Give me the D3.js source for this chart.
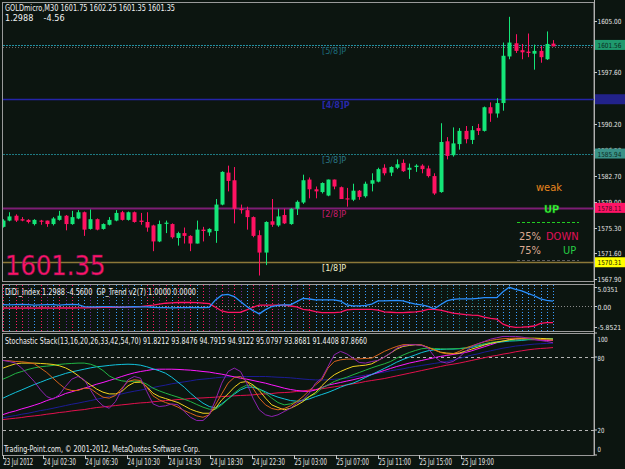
<!DOCTYPE html>
<html>
<head>
<meta charset="utf-8">
<script src="https://cdn.jsdelivr.net/npm/d3@7"></script>
<style>
  html, body { margin: 0; padding: 0; background: #0c1510; }
  svg { display: block; }
  text { font-family: "Liberation Sans Narrow", "DejaVu Sans Condensed", "Liberation Sans", sans-serif; }
</style>
</head>
<body>
<div id="chart"></div>
<script>
// ---- data (GOLDmicro M30, 89 bars) ----
const open = [1575.4,1576.3,1577.0,1576.5,1576.4,1575.8,1576.3,1576.3,1575.8,1576.4,1577.0,1575.8,1576.6,1577.5,1575.1,1576.5,1575.1,1575.7,1576.3,1577.5,
  1576.4,1577.5,1576.3,1576.1,1575.6,1573.3,1575.9,1575.8,1573.8,1574.5,1574.1,1573.0,1575.0,1574.6,1574.8,1578.6,1583.2,1582.1,1578.0,1577.8,
  1576.8,1574.2,1571.7,1576.2,1575.6,1577.1,1575.8,1578.0,1578.9,1582.2,1580.8,1580.4,1579.9,1582.2,1581.1,1579.5,1579.3,1580.6,1579.8,1581.6,
  1581.9,1583.9,1583.2,1583.9,1584.6,1583.6,1584.0,1584.2,1583.8,1582.7,1580.4,1587.7,1585.7,1587.3,1589.2,1587.9,1589.6,1589.2,1592.6,1591.7,
  1593.2,1599.9,1601.8,1600.8,1600.6,1600.3,1600.7,1599.5,1601.75];
const high = [1576.5,1577.5,1577.2,1576.8,1576.5,1576.5,1576.4,1576.3,1576.8,1577.7,1577.1,1577.7,1577.8,1577.6,1577.9,1576.6,1575.9,1576.8,1577.8,1577.7,
  1577.6,1577.6,1577.4,1577.5,1575.7,1576.3,1576.3,1575.9,1574.7,1575.3,1574.2,1576.3,1575.4,1575.2,1579.4,1583.4,1584.2,1584.0,1578.6,1578.3,
  1576.9,1574.9,1576.2,1579.4,1578.0,1578.0,1578.1,1579.2,1582.9,1582.5,1581.2,1581.8,1582.2,1582.2,1581.2,1581.0,1581.6,1580.7,1581.9,1583.1,
  1583.9,1584.4,1584.1,1585.1,1585.1,1584.5,1584.4,1584.4,1584.2,1583.1,1590.3,1588.3,1589.7,1589.6,1589.9,1589.9,1590.2,1592.7,1593.3,1593.9,
  1601.9,1605.6,1603.1,1601.7,1603.2,1601.6,1601.4,1603.5,1602.25];
const low = [1575.3,1576.2,1576.1,1576.2,1575.9,1575.6,1575.7,1575.4,1575.6,1576.3,1574.9,1575.7,1576.5,1574.1,1575.0,1574.9,1575.0,1575.6,1576.2,1576.3,
  1576.3,1576.0,1575.7,1574.7,1571.9,1573.2,1574.5,1573.7,1572.7,1573.0,1571.9,1573.0,1573.3,1574.1,1573.1,1578.5,1580.5,1575.9,1577.3,1575.0,
  1573.9,1568.4,1569.9,1575.4,1575.4,1575.8,1575.7,1577.1,1578.7,1579.5,1579.5,1580.2,1579.8,1580.8,1579.4,1578.3,1579.1,1579.3,1579.6,1580.5,
  1581.8,1582.8,1582.7,1583.7,1583.3,1582.3,1583.3,1583.1,1582.5,1580.0,1580.3,1585.1,1585.5,1586.5,1587.4,1587.3,1588.6,1589.1,1590.5,1591.1,
  1592.1,1599.5,1600.4,1599.5,1599.8,1598.0,1599.0,1599.4,1601.35];
const close = [1576.3,1576.9,1576.3,1576.3,1576.1,1576.4,1576.2,1575.8,1576.6,1577.0,1575.8,1576.8,1577.5,1575.0,1576.5,1575.0,1575.8,1576.4,1577.4,1576.4,
  1577.5,1576.1,1576.1,1575.3,1573.3,1575.8,1576.0,1573.9,1574.5,1574.1,1573.0,1575.0,1574.8,1575.1,1578.6,1583.3,1582.0,1578.0,1577.8,1576.8,
  1574.1,1571.7,1576.1,1575.7,1576.9,1575.9,1578.0,1579.0,1582.1,1580.8,1580.5,1581.7,1582.2,1581.2,1579.4,1579.4,1580.6,1579.7,1581.6,1582.1,
  1583.7,1583.1,1584.0,1584.4,1583.4,1583.9,1584.2,1583.7,1582.7,1580.2,1587.6,1585.6,1587.4,1589.2,1588.0,1589.3,1589.2,1592.6,1591.7,1593.2,
  1600.0,1601.9,1600.7,1600.5,1600.4,1600.7,1599.8,1601.7,1601.35];

// murrey math levels
const murreyLevels = [1601.56, 1593.75, 1585.94, 1578.13, 1570.31];
const murreyNames = ["[5/8]P", "[4/8]P", "[3/8]P", "[2/8]P", "[1/8]P"];
const murreyBoxText = ["1601.56", "", "1585.94", "1578.11", "1570.31"];

const priceTicks = [1605.00, 1597.60, 1590.20, 1586.50, 1582.70, 1579.00, 1575.30, 1571.60, 1567.90];

// DiDi index
const didiFast = [0.3,0.25,0.3,0.35,0.3,0.2,0.25,0.3,0.3,0.2,0.3,0.35,0.3,
  -0.2,-0.3,-0.3,-0.25,-0.2,-0.3,-0.35,-0.3,-0.25,-0.3,-0.3,
  -0.4,-0.5,-0.5,-0.55,-0.5,-0.5,-0.45,-0.5,-0.5,-0.4,
  1.6,2.9,3.1,2.5,1.15,-0.2,-1.3,-2.2,-1.05,-0.2,0.1,0.27,0.27,1.15,2.0,1.85,1.6,
  1.6,1.6,1.6,1.3,0.27,0,0,0.1,0.44,1.33,1.33,1.4,1.45,1.33,0.88,0.44,0.27,-0.18,-0.8,
  0.27,1.33,1.77,1.86,1.86,1.86,2.03,2.2,2.2,2.2,3.8,5.0351,4.5,4.06,3.36,2.74,1.9,1.5,1.2988];
const didiSlow = [-0.6,-0.65,-0.6,-0.62,-0.6,-0.65,-0.6,-0.6,-0.63,-0.6,-0.58,-0.6,-0.55,-0.55,-0.5,-0.5,
  -0.45,-0.45,-0.4,-0.4,-0.35,-0.3,-0.2,0.0,0.2,0.45,0.7,0.8,0.9,0.9,0.9,0.85,0.75,0.6,
  -0.4,-1.4,-1.8,-1.8,-1.75,-1.1,-0.4,0.2,0.2,0.2,0.2,0.2,-0.05,-0.3,-0.95,-1.2,-1.6,
  -1.85,-1.85,-1.85,-1.75,-1.1,-0.95,-0.95,-0.95,-0.95,-1.2,-1.65,-1.75,-1.85,-1.85,-1.75,-1.65,-1.45,-1.0,-0.95,
  -1.2,-1.6,-2.0,-2.2,-2.4,-2.55,-2.6,-3.1,-3.4,-3.6,-5.0,-5.6,-5.8521,-5.8,-5.7,-5.5,-4.8,-4.6,-4.56];
// GP_Trend state per bar: b blue, p pink, m purple, t teal
const gpTrend = "pbppmbpmbpmpbbmbbmbbmbbppmpbpmpbpmmpmpmbpmbpmbbmbpbbbbbbbbbbbbbbbbbbtbttbtbttbtbbbbbbbbbb".split("");

// Stochastic stack
const stochPeriods = [13, 16, 20, 26, 33, 42, 54, 70];
const stoch13 = [77.3,76.4,75.1,71,65.5,60,53.1,47.6,45.5,49,55.9,61.9,64.1,61.4,53.1,44.9,40,38,43.5,53.1,61.4,64.1,62.7,51.8,41.6,39.4,40,41.6,40.8,35.3,30.6,27.9,27.9,32.6,44.9,58.6,68.2,71,68.2,58.6,46.3,36.7,32.6,31.2,32.6,35.3,38,42.2,44.9,50.4,58.6,
  62.7,72.3,81.9,84.7,82.7,79.2,75.6,75.1,76.4,77.3,80,83.3,87.4,89.3,90.2,90.2,89.6,87.4,80.6,76.4,75.1,76.4,80,84.7,88.8,91,92.9,94.8,95.9,97,97,97,96.5,95.6,94.8,93.7,92.9,91.8212];
const stoch16 = [77.3,77,76.4,76.2,75.6,74.5,71,67.4,62.7,58.1,54,52.6,52.6,54.5,54.2,50.4,47.1,46.3,48.5,54.5,60,61.4,60.8,55.3,48.2,44.9,42.7,41.1,38.9,36.1,33.9,31.7,30.6,32.6,40.8,49.8,58.6,63.3,64.1,60,54.5,46.3,40.8,37.8,36.7,37.8,40,43.5,47.6,52.6,57.2,
  61.4,71,76.4,77.8,78.4,78.4,78.6,78.9,79.2,81.9,84.7,86.9,88.8,90.2,90.4,90.4,89.9,88,86,83.8,82.7,82.7,84.7,87.4,89.3,91,92.6,93.7,94.5,95.1,95.4,95.6,95.6,95.4,94.8,94.5,94.3,93.8476];
const stoch20 = [71,72.9,74.5,75.1,75.1,75.1,74.8,74.5,74,72.9,71.2,68.5,64.9,60.8,57.2,53.7,51.2,49.8,49.8,51.8,56.4,59.2,59.4,55.9,50.4,47.6,46,44.3,42.7,40,37.2,35.3,33.9,33.9,38,44.9,49.8,55.3,59.2,60,57.2,52.6,46.3,40.8,38.6,36.7,38,40.5,43.5,47.6,50.9,
  56.4,61.4,65.5,68.2,70.4,72.3,72.9,73.4,74.5,77.3,80,83.3,86.6,88.8,89.6,90.2,89.9,88,86,84.1,83.3,83,83.3,85,86.6,88.2,89.9,91.3,92.4,93.2,94.3,95.1,95.4,95.6,95.6,95.4,95.1,94.7915];
const stoch26 = [61.9,64.1,66.6,68.2,69.9,71.2,72.1,72.6,73.2,74,74.5,74.8,75.1,75.1,74.2,72.3,69,64.6,61.9,60.5,60,60.3,60,57.8,54.5,52.3,50.4,48.7,47.1,45.4,43.5,41.1,38.9,37.2,37.2,40.8,45.4,50.4,54.5,57,56.4,53.7,50.4,46.3,42.7,40.8,41.6,43.3,44.9,47.6,49.8,
  54.5,57.2,60,61.9,63.5,65.5,67.4,69.3,71.2,72.9,74.5,76.4,79.2,81.7,83.8,85.5,86.9,87.4,87.1,86.9,86.6,86.9,87.1,87.7,88.8,89.9,91,92.1,92.6,93.2,93.7,94,94.3,94.5,94.5,94.8,94.8,94.9122];
const stoch33 = [46.3,48.7,51,53.1,55.3,57.5,59.4,61.4,63.3,64.9,66.6,67.9,69,70.1,71.2,72.1,72.6,73.2,73.7,74,74.2,74,73.4,72.1,70.4,68.8,66.8,63.5,59.4,55.3,50.4,46,42.2,39.4,38.3,41.6,45.7,49.6,53.1,55.3,55.3,53.7,51.5,49,47.1,45.7,44.3,43.8,44.3,45.7,47.6,
  49.3,51,53.1,55.3,57.2,58.6,60.8,63.3,65.7,68.2,70.7,73.2,75.9,78.1,80,81.9,83.8,85.2,86,86.3,86.6,86.6,86.9,87.4,88,89.3,90.4,91.3,92.1,92.6,93.2,93.4,93.7,94.3,94.5,94.8,95.1,95.0797];
const stoch42 = [32.8,34.5,35.8,37.5,38.9,40.5,42.2,44.3,46,47.9,50.1,51.5,53.1,54.5,56.1,57.8,59.2,60.8,62.4,64.1,65.7,67.1,68.2,69,69.9,70.1,70.1,70.1,69.9,69.6,69.3,68.8,68.2,67.7,66.8,66,64.9,63.8,62.7,61.9,60.8,59.7,58.6,57.2,55.9,54.5,53.4,52.6,52,51.8,53,
  55,57,58.1,59.2,60.3,61.4,62.7,64.1,65.7,67.4,69,70.7,72.3,73.7,75.1,76.2,77.3,78.4,79.5,80.6,81.4,82.2,83,83.8,85.2,86.9,88.5,90.2,91.8,93.2,94.3,94.8,94.8,94.5,94.3,94,93.7,93.8681];
const stoch54 = [30.1,31.2,32,33.1,33.9,35,36.1,36.9,38,39.1,40.2,41.3,42.2,43.3,44.3,45.4,46.5,47.6,48.7,49.8,51,52,52.9,54,55,56.1,57,58.1,58.9,59.7,60.5,61.4,61.9,62.4,63,63.5,63.8,64.1,64.1,64.1,64.1,64.1,64.1,63.8,63.5,63.3,63,62.5,62,61.6,61.3,
  61.2,61.4,61.8,62.2,62.7,63.5,64.4,65.2,66,66.8,67.7,68.8,69.6,70.4,71.5,72.3,73.2,74,74.8,75.6,76.4,77.5,78.9,80.3,81.7,82.7,84.1,85.2,86.3,87.4,88.2,89.1,89.6,90.2,90.7,91,91.3,91.4408];
const stoch70 = [28.7,29.3,29.8,30.4,31.2,31.7,32.3,33.1,33.7,34.5,35,35.8,36.4,36.9,37.8,38.6,39.1,39.7,40.2,40.8,41.3,41.9,42.4,42.7,43.3,43.8,44.3,44.6,45.2,45.4,46,46.3,46.5,46.8,47.1,47.6,47.9,48.2,48.5,48.7,49,49.6,49.8,50.1,50.7,50.9,51.2,51.8,52.3,52.9,53.4,
  54,54.8,55.6,56.4,57.2,58.1,58.9,60,60.8,61.6,62.4,63.5,64.6,65.7,66.8,67.9,69,70.1,71.2,72.3,73.4,74.2,75.1,76.2,77.3,78.4,79.5,80.6,81.4,82.5,83.3,84.4,85.2,86,86.6,87.1,87.4,87.866];
const stochSeries = [stoch13, stoch16, stoch20, stoch26, stoch33, stoch42, stoch54, stoch70];
const stochColors = ["#8e22b0", "#d8641c", "#f2d21e", "#22b444", "#12c2dc", "#ff18ff", "#1c1c96", "#e2104e"];
const stochLevels = [100, 80, 20, 0];

// time axis (bar positions of labels)
const timeTickBars = [0, 6.4, 13.1, 19.8, 26.4, 33.1, 39.8, 46.6, 53.3, 60, 66.6, 73.3];
const timeLabels = ["23 Jul 2012", "24 Jul 02:30", "24 Jul 06:30", "24 Jul 10:30", "24 Jul 14:30", "24 Jul 18:30",
  "24 Jul 22:30", "25 Jul 03:00", "25 Jul 07:00", "25 Jul 11:00", "25 Jul 15:00", "25 Jul 19:00"];

// ---- layout ----
const W = 625, H = 469;
const axisX = 594;
const main = { top: 2, bottom: 281 };
const ind = { top: 284, bottom: 331 };
const sto = { top: 333, bottom: 455 };

const svg = d3.select("#chart").append("svg")
  .attr("width", W).attr("height", H)
  .style("background", "#0c1510");

const x = d3.scaleLinear().domain([0, 88]).range([3, 553]);
const yP = d3.scaleLinear().domain([1567.9, 1605]).range([279, 21]);
const yD = d3.scaleLinear().domain([-5.8521, 5.0351]).range([327.3, 287.3]);
const yS = d3.scaleLinear().domain([0, 100]).range([454.5, 332.8]);

// narrow right-axis label, squeezed to MT4 width
function axisLabel(g, y, txt, fill) {
  return g.append("text").attr("x", 597.5).attr("y", y + 3).attr("font-size", 7)
    .attr("fill", fill).attr("textLength", txt.length * 3.4).attr("lengthAdjust", "spacingAndGlyphs")
    .text(txt);
}

const defs = svg.append("defs");
[["cm", main], ["ci", ind], ["cs", sto]].forEach(([id, p]) => {
  defs.append("clipPath").attr("id", id).append("rect")
    .attr("x", 3).attr("y", p.top).attr("width", axisX - 3).attr("height", p.bottom - p.top);
});

// panel frames
[main, ind, sto].forEach(p => {
  svg.append("rect")
    .attr("x", 2.5).attr("y", p.top + 0.5)
    .attr("width", axisX - 2.5).attr("height", p.bottom - p.top)
    .attr("fill", "none").attr("stroke", "#9a9a9a").attr("stroke-width", 1);
});
svg.append("line").attr("x1", axisX + 0.5).attr("x2", axisX + 0.5).attr("y1", 0).attr("y2", sto.bottom)
  .attr("stroke", "#b0b0b0");

// ---- main chart ----
const gm = svg.append("g").attr("clip-path", "url(#cm)");

const lineColors = ["#2292a4", "#2424a8", "#1e7a82", "#7c1e74", "#8c7838"];
const lineDash = ["2,1", null, "2,1", null, null];
const lineWidth = [1, 1.3, 1, 2, 1.5];
const labelColors = ["#1c6a7a", "#2828a8", "#2a7484", "#c81c6e", "#f2f0c8"];

// bid line
gm.append("line").attr("x1", 3).attr("x2", axisX)
  .attr("y1", Math.round(yP(close[88])) + 1.5).attr("y2", Math.round(yP(close[88])) + 1.5)
  .attr("stroke", "#6a6a6a").attr("stroke-dasharray", "1,2");

murreyLevels.forEach((lv, k) => {
  gm.append("line")
    .attr("x1", 3).attr("x2", axisX)
    .attr("y1", Math.round(yP(lv)) + 0.5).attr("y2", Math.round(yP(lv)) + 0.5)
    .attr("stroke", lineColors[k]).attr("stroke-width", lineWidth[k])
    .attr("stroke-dasharray", lineDash[k]);
  gm.append("text")
    .attr("x", 322).attr("y", yP(lv) + 9)
    .attr("font-size", 9).attr("font-weight", k === 1 ? "bold" : "normal")
    .attr("fill", labelColors[k]).text(murreyNames[k]);
});

// candles
const idx = d3.range(open.length);
const upCol = "#14e678", dnCol = "#ff1262";
const candles = gm.selectAll("g.candle").data(idx).join("g").attr("class", "candle");
candles.append("line")
  .attr("x1", i => Math.round(x(i)) + 0.5).attr("x2", i => Math.round(x(i)) + 0.5)
  .attr("y1", i => yP(high[i])).attr("y2", i => yP(low[i]))
  .attr("stroke", i => close[i] >= open[i] ? upCol : dnCol).attr("stroke-width", 1);
candles.append("rect")
  .attr("x", i => Math.round(x(i)) - 1.5)
  .attr("width", 4)
  .attr("y", i => yP(Math.max(open[i], close[i])))
  .attr("height", i => Math.max(1.2, Math.abs(yP(open[i]) - yP(close[i]))))
  .attr("fill", i => close[i] >= open[i] ? upCol : dnCol);

// big last price
gm.append("text").attr("x", 5).attr("y", 275)
  .attr("font-family", "Liberation Sans, Arial, sans-serif")
  .attr("font-size", 27).attr("fill", "#ff1464")
  .attr("stroke", "#7a1458").attr("stroke-width", 0.5)
  .text(close[88].toFixed(2));

// signal box
gm.append("text").attr("x", 536).attr("y", 191).attr("font-size", 11).attr("fill", "#e8861e")
  .attr("font-family", "Liberation Sans, sans-serif").text("weak");
gm.append("text").attr("x", 544).attr("y", 213).attr("font-size", 11).attr("font-weight", "bold")
  .attr("fill", "#3cff3c").attr("stroke", "#0a6a0a").attr("stroke-width", 0.4)
  .attr("font-family", "Liberation Sans, sans-serif").text("UP");
gm.append("line").attr("x1", 517).attr("x2", 579).attr("y1", 222.5).attr("y2", 222.5)
  .attr("stroke", "#22cc22").attr("stroke-dasharray", "3,2");
gm.append("text").attr("x", 519).attr("y", 240).attr("font-size", 11).attr("fill", "#dcaa92")
  .attr("font-family", "Liberation Sans, sans-serif").text("25%");
gm.append("text").attr("x", 546).attr("y", 240).attr("font-size", 11).attr("fill", "#e0105a")
  .attr("font-family", "Liberation Sans, sans-serif").text("DOWN");
gm.append("text").attr("x", 519).attr("y", 254).attr("font-size", 11).attr("fill", "#dcaa92")
  .attr("font-family", "Liberation Sans, sans-serif").text("75%");
gm.append("text").attr("x", 563).attr("y", 254).attr("font-size", 11).attr("fill", "#26cc44")
  .attr("font-family", "Liberation Sans, sans-serif").text("UP");
gm.append("line").attr("x1", 517).attr("x2", 579).attr("y1", 260.5).attr("y2", 260.5)
  .attr("stroke", "#5a5a5a").attr("stroke-dasharray", "3,2");

// header
svg.append("text").attr("x", 5).attr("y", 11).attr("font-size", 9).attr("fill", "#f0f0f0")
  .attr("textLength", 170).attr("lengthAdjust", "spacingAndGlyphs")
  .text(`GOLDmicro,M30  ${open[88].toFixed(2)} ${high[88].toFixed(2)} ${low[88].toFixed(2)} ${close[88].toFixed(2)}`);
svg.append("text").attr("x", 5).attr("y", 21).attr("font-size", 9).attr("fill", "#f0f0f0")
  .attr("xml:space", "preserve")
  .text(`${didiFast[88].toFixed(4)}    ${didiSlow[88].toFixed(2)}`);

// right price axis (level boxes are drawn over the plain tick labels, as in MT4)
const ra = svg.append("g");
priceTicks.forEach(p => {
  ra.append("line").attr("x1", axisX).attr("x2", axisX + 3)
    .attr("y1", Math.round(yP(p)) + 0.5).attr("y2", Math.round(yP(p)) + 0.5).attr("stroke", "#c8c8c8");
  axisLabel(ra, yP(p), p.toFixed(2), "#e6e6e6");
});
const boxFill = ["#1f9a6e", "#22228a", "#3a9288", "#ff1466", "#ffff00"];
const boxText = ["#0c2a1c", "#22228a", "#0c2a22", "#3a0a1a", "#101000"];
murreyLevels.forEach((lv, k) => {
  ra.append("rect").attr("x", axisX + 1).attr("y", yP(lv) - 5).attr("width", W - axisX - 1).attr("height", 10)
    .attr("fill", boxFill[k]);
  if (murreyBoxText[k]) axisLabel(ra, yP(lv), murreyBoxText[k], boxText[k]);
});

// ---- DiDi / GP_Trend panel ----
const gi = svg.append("g").attr("clip-path", "url(#ci)");
const trendCol = { b: "#3a9cff", p: "#ff1a6a", m: "#6c2c9c", t: "#1c7c8c" };
gi.selectAll("line.gp").data(idx).join("line").attr("class", "gp")
  .attr("x1", i => Math.round(x(i)) + 0.5).attr("x2", i => Math.round(x(i)) + 0.5)
  .attr("y1", ind.top + 1).attr("y2", ind.bottom)
  .attr("stroke", i => trendCol[gpTrend[i]]).attr("stroke-dasharray", "1,2");
gi.append("line").attr("x1", 3).attr("x2", axisX).attr("y1", Math.round(yD(0)) + 0.5).attr("y2", Math.round(yD(0)) + 0.5)
  .attr("stroke", "#8a8a8a").attr("stroke-dasharray", "1,2");
const lineD = arr => d3.line().x((d, i) => x(i)).y(d => yD(d))(arr);
gi.append("path").attr("d", lineD(didiSlow)).attr("fill", "none").attr("stroke", "#ff1464").attr("stroke-width", 1.3);
gi.append("path").attr("d", lineD(didiFast)).attr("fill", "none").attr("stroke", "#2a90ff").attr("stroke-width", 1.3);
svg.append("text").attr("x", 5).attr("y", 295).attr("font-size", 9).attr("fill", "#f0f0f0")
  .attr("textLength", 191).attr("lengthAdjust", "spacingAndGlyphs").attr("xml:space", "preserve")
  .text(`DiDi_Index ${didiFast[88].toFixed(4)} ${didiSlow[88].toFixed(4)}  GP_Trend v2(7) 1.0000 0.0000`);
const didiAxis = [d3.max(didiFast), 0, d3.min(didiSlow)];
const didiLabelY = [289, 307, 327];
didiAxis.forEach((v, k) => {
  svg.append("line").attr("x1", axisX).attr("x2", axisX + 3).attr("y1", Math.round(yD(v)) + 0.5).attr("y2", Math.round(yD(v)) + 0.5)
    .attr("stroke", "#c8c8c8");
  axisLabel(svg, didiLabelY[k], v === 0 ? "0.00" : v.toFixed(4), "#e6e6e6");
});

// ---- Stochastic stack panel ----
const gs = svg.append("g").attr("clip-path", "url(#cs)");
[80, 20].forEach(v => {
  gs.append("line").attr("x1", 3).attr("x2", axisX).attr("y1", Math.round(yS(v)) + 0.5).attr("y2", Math.round(yS(v)) + 0.5)
    .attr("stroke", "#b4b4b4").attr("stroke-dasharray", "3,3");
});
const lineS = arr => d3.line().x((d, i) => x(i)).y(d => yS(d))(arr);
stochSeries.slice().reverse().forEach((s, k) => {
  const j = stochSeries.length - 1 - k;
  gs.append("path").attr("d", lineS(s)).attr("fill", "none")
    .attr("stroke", stochColors[j]).attr("stroke-width", 1);
});
svg.append("text").attr("x", 5).attr("y", 344).attr("font-size", 9).attr("fill", "#f0f0f0")
  .attr("textLength", 362).attr("lengthAdjust", "spacingAndGlyphs")
  .text(`Stochastic Stack(${stochPeriods.join(",")}) ` + stochSeries.map(s => s[88].toFixed(4)).join(" "));
const stoLabelY = { 100: 339, 80: 358, 20: 430, 0: 449 };
stochLevels.forEach(v => {
  svg.append("line").attr("x1", axisX).attr("x2", axisX + 3).attr("y1", Math.round(yS(v))).attr("y2", Math.round(yS(v)))
    .attr("stroke", "#c8c8c8");
  axisLabel(svg, stoLabelY[v], String(v), "#e6e6e6");
});
svg.append("text").attr("x", 4).attr("y", 452).attr("font-size", 9).attr("fill", "#f0f0f0")
  .attr("textLength", 196).attr("lengthAdjust", "spacingAndGlyphs")
  .text("Trading-Point.com, © 2001-2012, MetaQuotes Software Corp.");

// ---- time axis ----
timeTickBars.forEach((b, k) => {
  const xx = Math.round(x(b)) + 0.5;
  svg.append("line").attr("x1", xx).attr("x2", xx).attr("y1", sto.bottom).attr("y2", sto.bottom + 4)
    .attr("stroke", "#c8c8c8");
  svg.append("text").attr("x", xx).attr("y", 465).attr("font-size", 8).attr("fill", "#e6e6e6")
    .attr("textLength", timeLabels[k].length * 2.7).attr("lengthAdjust", "spacingAndGlyphs")
    .text(timeLabels[k]);
});
</script>
</body>
</html>
